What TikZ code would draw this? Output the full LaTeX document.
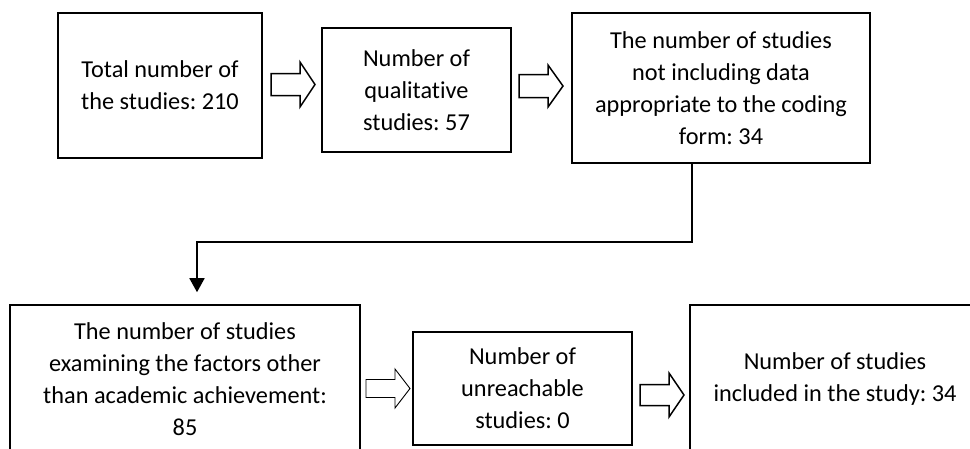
\documentclass[tikz,border=0pt]{standalone}
\usepackage{fontspec}
\setmainfont{Carlito}[RawFeature={-liga;-calt;-dlig;-clig}]
\frenchspacing
\usetikzlibrary{arrows.meta}
\begin{document}
\begin{tikzpicture}[x=1pt,y=-1pt,
  box/.style={draw, line width=1.6pt, align=center, inner sep=0pt,
    font=\fontsize{24.3}{32}\selectfont},
  pics/blk/.style args={#1/#2/#3}{code={
    \draw[line width=#3, fill=white] (0,-#2) -- (29,-#2) -- (29,-#1) -- (44,0)
      -- (29,#1) -- (29,#2) -- (0,#2) -- cycle;}},
  conn/.style={line width=2.6pt},
  connarrow/.style={line width=1.8pt, -{Triangle[width=15pt,length=14pt]}}
]
\useasboundingbox (0,0) rectangle (970,448);
\clip (0,0) rectangle (970,448);

\node[box, minimum width=204pt, minimum height=145pt] (b1) at (160,85.5)
  {Total number of\\the studies: 210};
\node[box, minimum width=189pt, minimum height=124pt] (b2) at (416.5,90)
  {Number of\\qualitative\\studies: 57};
\node[box, minimum width=298pt, minimum height=150pt] (b3) at (721,88)
  {The number of studies\\not including data\\appropriate to the coding\\form: 34};
\node[box, minimum width=350pt, minimum height=149pt] (b4) at (185,379.5)
  {The number of studies\\examining the factors other\\than academic achievement:\\85};
\node[box, minimum width=219pt, minimum height=113pt] (b5) at (522.5,388.5)
  {Number of\\unreachable\\studies: 0};
\node[box, minimum width=290pt, minimum height=148pt] (b6) at (835,379)
  {Number of studies\\included in the study: 34};

\pic at (271,84.5) {blk=22.5/11/1.5pt};
\pic at (519,86) {blk=21/11.5/1.5pt};
\pic at (366,388.5) {blk=19.5/9/0.9pt};
\pic at (640,395) {blk=22/10.5/1.5pt};

\coordinate (c1) at (692,242);
\coordinate (c2) at (197,242);
\draw[conn] (b3.south -| c1) -- (c1) -- ([xshift=-1pt]c2);
\draw[connarrow, shorten >=12pt] (c2) -- (b4.north -| c2);
\end{tikzpicture}
\end{document}
